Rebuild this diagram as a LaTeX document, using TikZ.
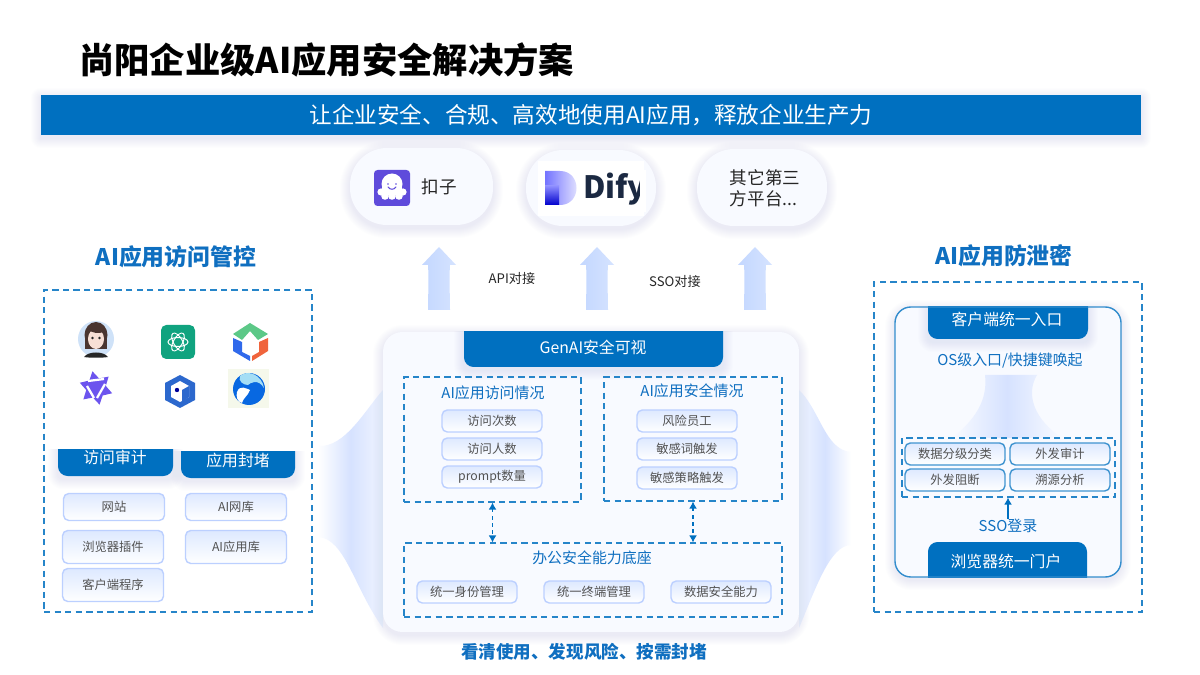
\documentclass[tikz,border=0pt]{standalone}
\usepackage{fontspec}
\setmainfont{Noto Sans CJK SC}
\usetikzlibrary{arrows.meta}

\definecolor{barblue}{HTML}{0070C0}
\definecolor{headblue}{HTML}{0F6FC0}
\definecolor{panelfill}{HTML}{F8FAFF}
\definecolor{tagedge}{HTML}{BCD0FF}
\definecolor{tagtop}{HTML}{DEE9FF}
\definecolor{halo}{HTML}{7C96F0}
\definecolor{flare}{HTML}{D6E2FF}
\definecolor{uparrow}{HTML}{C3D7FF}
\definecolor{cozepurple}{HTML}{5F4BDB}
\definecolor{difyink}{HTML}{1B2942}
\definecolor{gptgreen}{HTML}{10A37F}
\definecolor{cubegreen}{HTML}{5CC887}
\definecolor{cubeblue}{HTML}{3069EB}
\definecolor{cubered}{HTML}{F0643C}
\definecolor{starpurple}{HTML}{6C54EE}
\definecolor{hexblue}{HTML}{2C68CD}
\definecolor{whalepale}{HTML}{F5F8EB}
\definecolor{whaleblue}{HTML}{0868E1}
\definecolor{whalesky}{HTML}{A5DEF5}
\definecolor{avatarback}{HTML}{CFE2F8}
\definecolor{hairbrown}{HTML}{4A3530}
\definecolor{skin}{HTML}{F7DFD5}

\tikzset{
 dashbox/.style={draw=barblue!85,dashed,dash pattern=on 3.6pt off 2.4pt,line width=.65pt,inner sep=0pt},
 tagbox/.style={draw=tagedge,line width=.8pt,rounded corners=3pt,top color=tagtop,bottom color=white,
  text=black!68,font=\fontsize{7}{8}\selectfont,inner sep=0pt,minimum width=2cm,minimum height=.44cm},
 tagsolid/.style={tagbox,draw=barblue!75,line width=.8pt},
 pill/.style={fill=panelfill,rounded corners=.74cm,inner sep=0pt,font=\fontsize{10}{12.5}\selectfont,align=center,text=black!85},
 bartext/.style={text=white,inner sep=0pt,font=\fontsize{9}{11}\selectfont},
 bluetext/.style={text=headblue,inner sep=0pt,font=\fontsize{8.5}{10}\selectfont},
 headtext/.style={text=headblue,inner sep=0pt,font=\bfseries\fontsize{13}{15}\selectfont},
 linklabel/.style={inner sep=0pt,text=black!85,font=\fontsize{7.5}{9}\selectfont},
 link/.style={barblue,dashed,dash pattern=on 2pt off 2pt,line width=.7pt,{Latex[length=4pt,width=4.5pt]}-{Latex[length=4pt,width=4.5pt]}}
}

% soft coloured shadow
\newcommand{\softhalo}[5]{
\foreach \k in {1,...,10}{
 \fill[halo,opacity=.013,rounded corners=#5*.567pt+\k*.567pt] (#1-\k,#2-\k+3) rectangle (#3+\k,#4+\k+3);
}}
% bar hanging from a top edge, with its shadow
\newcommand{\barbelow}[4]{
\begin{scope}
\clip (#1-12,#2) rectangle (#3+12,#4+16);
\softhalo{#1}{#2-10}{#3}{#4}{5}
\fill[barblue,rounded corners=5.5pt] (#1,#2-14) rectangle (#3,#4);
\end{scope}
}

\begin{document}
\begin{tikzpicture}[x=.02cm,y=-.02cm]
\useasboundingbox (0,0) rectangle (1200,675);
\fill[white] (0,0) rectangle (1200,675);

% title and banner
\node[inner sep=0pt,anchor=west,font=\bfseries\fontsize{20.1}{22}\selectfont] (title) at (79,60) {尚阳企业级AI应用安全解决方案};
\softhalo{41}{95}{1141}{135}{0}
\node[fill=barblue,text=white,inner sep=0pt,minimum width=22cm,minimum height=.8cm,font=\fontsize{12.87}{14}\selectfont] (banner) at (591,115) {让企业安全、合规、高效地使用AI应用，释放企业生产力};

% platforms
\softhalo{350}{148}{493}{225}{37}
\softhalo{526}{150}{656}{226}{37}
\softhalo{697}{149}{827}{226}{37}
\node[pill,minimum width=2.86cm,minimum height=1.54cm] (coze) at (421.5,186.5) {};
\node[pill,minimum width=2.6cm,minimum height=1.52cm] (dify) at (591,188) {};
\node[pill,minimum width=2.6cm,minimum height=1.54cm] (other) at (762,187.5) {};
\node[inner sep=0pt,font=\fontsize{10}{12.5}\selectfont,text=black!85] (cozetext) at (439,187) {扣子};
\node[inner sep=0pt,font=\fontsize{10}{12}\selectfont,text=black!85,align=left] (othertext) at (765,188.5) {其它第三\\方平台...};

% coze icon
\fill[cozepurple,rounded corners=2pt] (374,170) rectangle (410,206);
\fill[white] (392,184) circle (10.5);
\fill[white] (382,184) rectangle (402,195);
\foreach \gx in {381,403}{\fill[white] (\gx,192) circle (3.6);}
\foreach \gx in {385,392,399}{\fill[white] (\gx,196) circle (3.8);}
\fill[cozepurple] (388,184) circle (.9);
\fill[cozepurple] (396,184) circle (.9);
\draw[cozepurple,line width=.6pt,line cap=round] (388,187) .. controls (390,190) and (394,190) .. (396,187);

% dify logo
\fill[white] (538,161) rectangle (644,216);
\shade[left color=blue!55,right color=blue!6] (545,171) -- (560,171) .. controls (582,171) and (582,205) .. (560,205) -- (545,205) -- cycle;
\shade[top color=blue!45,bottom color=blue!80!black] (545,186) -- (559,186) -- (559,205) -- (545,205) -- cycle;
\node[inner sep=0pt,anchor=west,text=difyink,font=\bfseries\fontsize{17.5}{20}\selectfont] (difytext) at (583,189) {Dify};
\fill[white] (640,170) rectangle (646,212);

% up arrows
\foreach \ax in {439,597,755}{
 \shade[left color=uparrow,right color=uparrow!70] (\ax,247) -- (\ax+17,265) -- (\ax+11,265) .. controls (\ax+10,280) and (\ax+11,295) .. (\ax+11,310) -- (\ax-11,310) .. controls (\ax-11,295) and (\ax-10,280) .. (\ax-11,265) -- (\ax-17,265) -- cycle;
}
\node[linklabel] (api) at (512,279) {API对接};
\node[linklabel] (sso) at (675,282) {SSO对接};

% side headings and boxes
\node[headtext] (headleft) at (176,257) {AI应用访问管控};
\node[headtext] (headright) at (1004,256) {AI应用防泄密};
\node[dashbox,minimum width=5.36cm,minimum height=6.44cm] (leftbox) at (178,451) {};
\node[dashbox,minimum width=5.36cm,minimum height=6.6cm] (rightbox) at (1008,447) {};

% flares beside the centre panel
\shade[left color=white,right color=flare!35,middle color=flare] (383,390) .. controls (365,410) and (345,448) .. (318,446) -- (318,537) .. controls (345,538) and (355,590) .. (383,628) -- cycle;
\shade[left color=flare!35,right color=white,middle color=flare] (799,390) .. controls (820,410) and (825,450) .. (851,452) -- (851,545) .. controls (830,545) and (815,590) .. (799,628) -- cycle;

% centre panel
\softhalo{383}{332}{799}{632}{20}
\node[fill=panelfill,rounded corners=11pt,inner sep=0pt,minimum width=8.32cm,minimum height=6cm] (panel) at (591,482) {};
\barbelow{464}{332}{723}{367}
\node[bartext] (genai) at (593,347) {GenAI安全可视};

\node[dashbox,minimum width=3.54cm,minimum height=2.5cm] (visitbox) at (492.5,439.5) {};
\node[dashbox,minimum width=3.56cm,minimum height=2.48cm] (safebox) at (693,439) {};
\node[dashbox,minimum width=7.56cm,minimum height=1.48cm] (basebox) at (593,580) {};
\node[bluetext] (visittitle) at (493,393) {AI应用访问情况};
\node[bluetext] (safetitle) at (692,391) {AI应用安全情况};
\node[bluetext] (basetitle) at (592,558) {办公安全能力底座};
\node[tagbox] (visitone) at (492,421) {访问次数};
\node[tagbox] (visittwo) at (492,449) {访问人数};
\node[tagbox] (visitthree) at (492,477) {prompt数量};
\node[tagbox] (safeone) at (687,421) {风险员工};
\node[tagbox] (safetwo) at (687,449) {敏感词触发};
\node[tagbox] (safethree) at (687,478) {敏感策略触发};
\node[tagbox] (baseone) at (467,592) {统一身份管理};
\node[tagbox] (basetwo) at (594,592) {统一终端管理};
\node[tagbox] (basethree) at (721,592) {数据安全能力};
\draw[link] (visitbox.south) -- (basebox.north -| visitbox.south);
\draw[link] (safebox.south) -- (basebox.north -| safebox.south);
\node[inner sep=0pt,text=headblue,font=\bfseries\fontsize{10}{12}\selectfont] (slogan) at (584,652) {看清使用、发现风险、按需封堵};

% app icons
\fill[avatarback] (96,339) circle (18);
\fill[hairbrown] (96,335) ellipse (11.5 and 13);
\fill[hairbrown] (85,335) rectangle (107,349);
\fill[skin] (96,339) ellipse (8 and 10);
\fill[hairbrown] (88,328) .. controls (92,335) and (100,333) .. (104,332) -- (103,325) -- (90,325) -- cycle;
\fill[black!85] (92.5,338) circle (1.3);
\fill[black!85] (99.5,338) circle (1.3);
\fill[black!85] (84,357) .. controls (88,351) and (104,351) .. (108,357) .. controls (102,358) and (90,358) .. (84,357) -- cycle;
\fill[gptgreen,rounded corners=3pt] (161,325) rectangle (195,359);
\foreach \ang in {0,60,120}{\draw[white,line width=.55pt,rotate around={\ang:(178,342)}] (178,342) ellipse (10 and 4.5);}
\fill[cubegreen] (233,334) -- (250,323) -- (268,334) -- (258,340) -- (250,331) -- (242,340) -- cycle;
\fill[cubeblue] (233,338) -- (242,342) -- (242,352) -- (250,356) -- (250,361) -- (233,351) -- cycle;
\fill[cubered] (268,338) -- (268,351) -- (252,361) -- (252,356) -- (259,352) -- (259,342) -- cycle;
\fill[starpurple,rotate around={12:(96,388)}] (96,371) -- (101,379.3) -- (110.7,379.5) -- (106,388) -- (110.7,396.5) -- (101,396.7) -- (96,405) -- (91,396.7) -- (81.3,396.5) -- (86,388) -- (81.3,379.5) -- (91,379.3) -- cycle;
\draw[white,line width=1.3pt] (88,381) -- (104,379) (105,384) -- (97,398) (87,386) -- (94,398);
\fill[hexblue] (180,375) -- (195,383) -- (195,400) -- (180,408) -- (165,400) -- (165,383) -- cycle;
\fill[white] (180,381) -- (189,386) -- (189,397) -- (180,402) -- (171,397) -- (171,386) -- cycle;
\fill[hexblue] (182,390) -- (189,386) -- (189,397) -- (182,402) -- cycle;
\fill[blue!60!black] (177,390) circle (2.2);
\fill[whalepale] (228,369) rectangle (269,408);
\fill[whaleblue] (249,389) circle (16);
\fill[whalesky] (240,376) .. controls (248,369) and (262,375) .. (264,388) .. controls (258,378) and (250,383) .. (248,385) .. controls (243,385) and (238,381) .. (240,376) -- cycle;
\fill[white] (237,392) .. controls (240,384) and (247,389) .. (250,390) .. controls (248,396) and (243,398) .. (242,403) .. controls (237,402) and (236,396) .. (237,392) -- cycle;

% left side bars and tags
\barbelow{58}{449}{173}{476}
\barbelow{181}{451}{295}{478}
\node[bartext] (audit) at (115,457) {访问审计};
\node[bartext] (block) at (238,460) {应用封堵};
\node[tagbox,minimum width=2.02cm,minimum height=.54cm] (site) at (114,507) {网站};
\node[tagbox,minimum width=2.02cm,minimum height=.66cm] (plugin) at (113,547) {浏览器插件};
\node[tagbox,minimum width=2.02cm,minimum height=.66cm] (client) at (113,585) {客户端程序};
\node[tagbox,minimum width=2.02cm,minimum height=.54cm] (ailib) at (236,507) {AI网库};
\node[tagbox,minimum width=2.02cm,minimum height=.66cm] (applib) at (236,547) {AI应用库};

% right side panel
\softhalo{895}{307}{1121}{577}{17}
\node[fill=panelfill,rounded corners=9pt,inner sep=0pt,minimum width=4.52cm,minimum height=5.4cm] (portal) at (1008,442) {};
\barbelow{928}{307}{1088}{339}
\begin{scope}
\clip (926,542) rectangle (1089,577);
\fill[barblue,rounded corners=5.5pt] (928,542) rectangle (1087,590);
\end{scope}
\draw[barblue!80,line width=.8pt,rounded corners=9pt] (895,307) rectangle (1121,577);
\node[bartext] (clientgate) at (1007,319) {客户端统一入口};
\node[bartext] (browsergate) at (1006,561) {浏览器统一门户};
\node[bluetext] (osentry) at (1010,361) {OS级入口/快捷键唤起};
\shade[left color=panelfill,right color=panelfill,middle color=flare] (985,375) -- (1037,375) .. controls (1025,395) and (1035,420) .. (1062,438) -- (952,438) .. controls (975,420) and (988,400) .. (985,375) -- cycle;
\node[dashbox,minimum width=4.26cm,minimum height=1.18cm] (funcbox) at (1008.5,467.5) {};
\node[tagsolid] (grade) at (955,454) {数据分级分类};
\node[tagsolid] (sendaudit) at (1060,454) {外发审计};
\node[tagsolid] (sendblock) at (955,480) {外发阻断};
\node[tagsolid] (trace) at (1060,480) {溯源分析};
\node[bluetext] (ssologin) at (1008,526) {SSO登录};
\draw[barblue,line width=.7pt,-{Latex[length=4pt,width=4.5pt]}] (ssologin.north) -- (funcbox.south -| ssologin.north);
\end{tikzpicture}
\end{document}
